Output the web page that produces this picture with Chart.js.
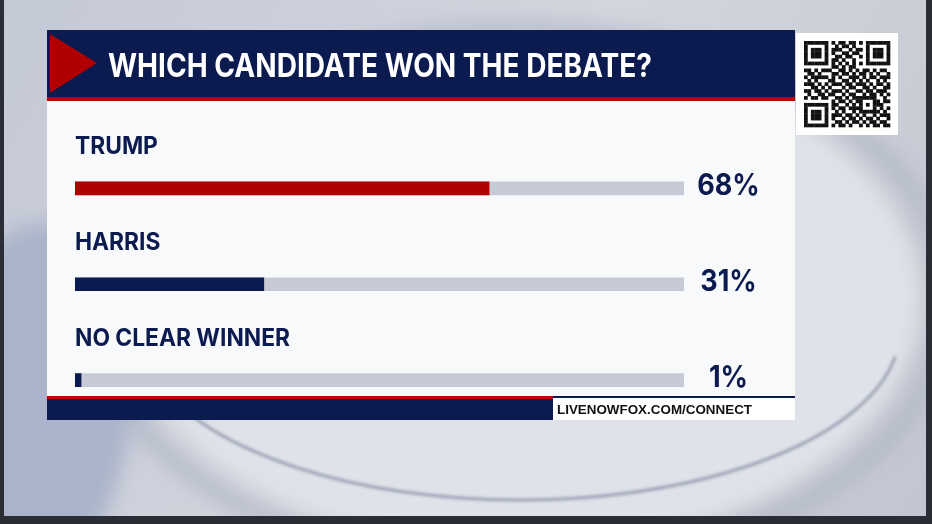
<!DOCTYPE html>
<html>
<head>
<meta charset="utf-8">
<script src="https://cdn.jsdelivr.net/npm/chart.js@4"></script>
<style>
  html, body { margin: 0; padding: 0; background: #2a2d35; }
  #wrap { width: 932px; height: 524px; }
</style>
</head>
<body>
<div id="wrap"><canvas id="poll" width="932" height="524"></canvas></div>
<script>
// Adatok
const title = 'WHICH CANDIDATE WON THE DEBATE?';
const categories = ['TRUMP', 'HARRIS', 'NO CLEAR WINNER'];
const values = [68, 31, 1];
const trackValues = [100, 100, 100];
const valueLabels = ['68%', '31%', '1%'];
const footerText = 'LIVENOWFOX.COM/CONNECT';

const NAVY = '#0b1a4f';
const RED = '#b00000';
const TRACK = '#c6cad6';

// QR-szerű minta (csak díszítés)
const qrRows = [
  '1111111010110110101111111',
  '1000001001011010001000001',
  '1011101011100101101011101',
  '1011101010011011001011101',
  '1011101001101100101011101',
  '1000001011010010001000001',
  '1111111010101010101111111',
  '0000000011010110000000000',
  '1101011100110101011010110',
  '0110100011011010110101001',
  '1011111010100111010110111',
  '0101000110011010101001010',
  '1110101011101101110101101',
  '0011010100010110011010011',
  '1101101011101001101101110',
  '0100110110010110010110101',
  '1011011001101011111110010',
  '0000000010110101100011011',
  '1111111011001010101011100',
  '1000001010110111100010101',
  '1011101001010010111111010',
  '1011101011101101010010111',
  '1011101010010110101101001',
  '1000001001101011010110110',
  '1111111010110100101011011'
];

// Szöveg kiírása vízszintesen összenyomva
function squeezeText(ctx, text, x, y, font, sx, align) {
  ctx.save();
  ctx.font = font;
  ctx.translate(x, y);
  ctx.scale(sx, 1);
  ctx.textAlign = align || 'left';
  ctx.fillText(text, 0, 0);
  ctx.restore();
}

// Szöveg kiírása adott szélességre igazítva
function fitText(ctx, text, x, y, font, width, align) {
  ctx.save();
  ctx.font = font;
  const w = ctx.measureText(text).width;
  ctx.restore();
  squeezeText(ctx, text, x, y, font, width / w, align);
}

const backdrop = {
  id: 'backdrop',
  beforeDraw(chart) {
    const ctx = chart.ctx;
    ctx.save();
    // elmosott háttérkép
    const g = ctx.createLinearGradient(0, 0, 932, 524);
    g.addColorStop(0, '#c4c9d6');
    g.addColorStop(0.5, '#d3d6de');
    g.addColorStop(1, '#c2c6d0');
    ctx.fillStyle = g;
    ctx.fillRect(0, 0, 932, 524);
    ctx.filter = 'blur(10px)';
    ctx.fillStyle = '#dfe2e9';
    ctx.beginPath();
    ctx.ellipse(520, 300, 400, 250, 0, 0, Math.PI * 2);
    ctx.fill();
    ctx.strokeStyle = '#b0b6c6';
    ctx.lineWidth = 14;
    ctx.beginPath();
    ctx.ellipse(520, 300, 430, 270, 0, 0, Math.PI * 2);
    ctx.stroke();
    ctx.fillStyle = '#aab3c9';
    ctx.beginPath();
    ctx.ellipse(20, 420, 110, 200, 0.2, 0, Math.PI * 2);
    ctx.fill();
    ctx.filter = 'blur(1.5px)';
    ctx.strokeStyle = '#9aa1b3';
    ctx.lineWidth = 3;
    ctx.beginPath();
    ctx.ellipse(520, 330, 380, 170, 0, 0.05 * Math.PI, 0.95 * Math.PI);
    ctx.stroke();
    ctx.filter = 'none';
    // sötét keret
    ctx.fillStyle = '#2a2d35';
    ctx.fillRect(0, 516, 932, 8);
    ctx.fillRect(926, 0, 6, 524);
    ctx.fillRect(0, 0, 4, 524);

    // panel
    ctx.fillStyle = '#f8f9fb';
    ctx.fillRect(47, 30, 748, 390);
    ctx.fillStyle = NAVY;
    ctx.fillRect(47, 30, 748, 67);
    ctx.fillStyle = '#c00000';
    ctx.fillRect(47, 97, 748, 4);
    ctx.fillStyle = RED;
    ctx.beginPath();
    ctx.moveTo(50, 34);
    ctx.lineTo(97, 63);
    ctx.lineTo(50, 93);
    ctx.closePath();
    ctx.fill();
    ctx.fillStyle = '#ffffff';
    fitText(ctx, title, 108, 77, 'bold 32px Inter', 544);

    // lábléc
    ctx.fillStyle = '#c00000';
    ctx.fillRect(47, 396, 506, 3);
    ctx.fillStyle = NAVY;
    ctx.fillRect(47, 399, 506, 21);
    ctx.fillRect(553, 396, 242, 2);
    ctx.fillStyle = '#ffffff';
    ctx.fillRect(553, 398, 242, 22);
    ctx.fillStyle = '#111111';
    fitText(ctx, footerText, 557, 414, 'bold 13px "Liberation Sans Narrow", "Liberation Sans"', 195);

    // QR
    ctx.fillStyle = '#ffffff';
    ctx.fillRect(796, 33, 102, 102);
    const cell = 86 / qrRows.length;
    ctx.fillStyle = '#111111';
    qrRows.forEach((row, r) => {
      for (let c = 0; c < row.length; c++) {
        if (row[c] === '1') ctx.fillRect(804 + c * cell, 41 + r * cell, cell + 0.3, cell + 0.3);
      }
    });
    ctx.restore();
  },
  afterDatasetsDraw(chart) {
    const ctx = chart.ctx;
    const y = chart.scales.y;
    ctx.save();
    ctx.fillStyle = NAVY;
    categories.forEach((cat, i) => {
      const cy = y.getPixelForValue(i);
      squeezeText(ctx, cat, 75, cy - 34.5, 'bold 24px Inter', 0.95, 'left');
      squeezeText(ctx, valueLabels[i], 728.5, cy + 7, 'bold 30px Inter', 0.9, 'center');
    });
    ctx.restore();
  }
};

new Chart(document.getElementById('poll'), {
  type: 'bar',
  data: {
    labels: categories,
    datasets: [
      { data: values, backgroundColor: [RED, NAVY, NAVY], barThickness: 13, order: 0 },
      { data: trackValues, backgroundColor: TRACK, barThickness: 13, order: 1 }
    ]
  },
  options: {
    indexAxis: 'y',
    responsive: false,
    animation: false,
    devicePixelRatio: 1,
    grouped: false,
    layout: { padding: { left: 75, right: 248, top: 140.5, bottom: 96 } },
    plugins: { legend: { display: false }, tooltip: { enabled: false } },
    scales: {
      x: { display: false, min: 0, max: 100 },
      y: { display: false }
    }
  },
  plugins: [backdrop]
});
</script>
</body>
</html>
